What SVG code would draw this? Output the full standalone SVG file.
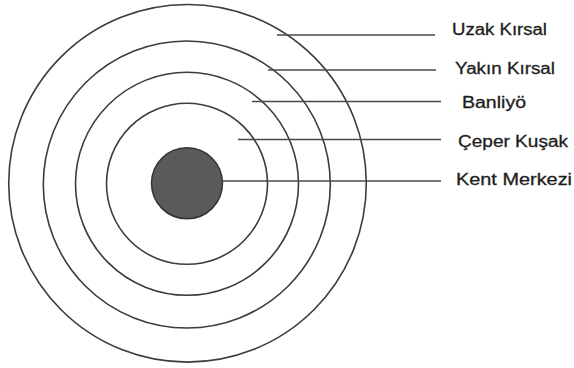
<svg xmlns="http://www.w3.org/2000/svg" width="574" height="368" viewBox="0 0 574 368">
<style>
.ring{fill:none;stroke:#3c3c3c;stroke-width:1.6}
.core{fill:#5a5a5a;stroke:#333;stroke-width:1.5}
.lead{stroke:#4a4a4a;stroke-width:1.3;fill:none}
.lbl{font-family:"Liberation Sans",Arial,sans-serif;font-size:16px;fill:#1e1e1e;stroke:#1e1e1e;stroke-width:0.3}
</style>
<rect width="574" height="368" fill="#fff"/>
<g id="uzak-kirsal"><circle class="ring" cx="187.5" cy="183.3" r="178.8"/></g>
<g id="yakin-kirsal"><circle class="ring" cx="186.8" cy="184.5" r="143.5"/></g>
<g id="banliyo"><circle class="ring" cx="187" cy="183.8" r="111.5"/></g>
<g id="ceper-kusak"><circle class="ring" cx="187" cy="183.8" r="80.5"/></g>
<g id="kent-merkezi"><circle class="core" cx="187" cy="183.3" r="35.5"/></g>
<g id="connectors">
<line class="lead" x1="277" y1="35" x2="435" y2="35"/>
<line class="lead" x1="268" y1="70" x2="436" y2="70"/>
<line class="lead" x1="252" y1="101.5" x2="441" y2="101.5"/>
<line class="lead" x1="238" y1="139.5" x2="441" y2="139.5"/>
<line class="lead" x1="222" y1="181" x2="441" y2="181"/>
</g>
<g id="labels">
<text class="lbl" x="452" y="34.5" textLength="95" lengthAdjust="spacingAndGlyphs">Uzak Kırsal</text>
<text class="lbl" x="455" y="74" textLength="100" lengthAdjust="spacingAndGlyphs">Yakın Kırsal</text>
<text class="lbl" x="462" y="108.3" textLength="64" lengthAdjust="spacingAndGlyphs">Banliyö</text>
<text class="lbl" x="458" y="146.5" textLength="110" lengthAdjust="spacingAndGlyphs">Çeper Kuşak</text>
<text class="lbl" x="456" y="185" textLength="116" lengthAdjust="spacingAndGlyphs">Kent Merkezi</text>
</g>
</svg>
